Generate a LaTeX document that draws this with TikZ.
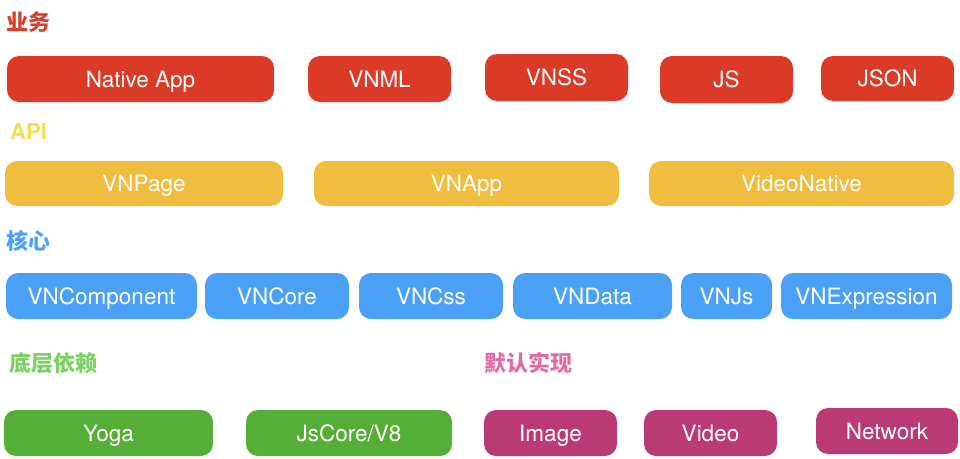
\documentclass[tikz,border=0pt]{standalone}
\usepackage{fontspec}
\setmainfont{TeX Gyre Heros}
\newfontfamily\cjk{Noto Sans CJK SC}
\usetikzlibrary{positioning}

\definecolor{bizred}{HTML}{DB3B26}
\definecolor{apiyellow}{HTML}{F0BD40}
\definecolor{coreblue}{HTML}{4BA1F8}
\definecolor{depgreen}{HTML}{55AE35}
\definecolor{implpink}{HTML}{BA3A75}
\definecolor{lblred}{HTML}{D9402A}
\definecolor{lblyellow}{HTML}{F5DE50}
\definecolor{lblgreen}{HTML}{7BD262}
\definecolor{lblpink}{HTML}{E06BA8}

\begin{document}
\begin{tikzpicture}[x=1pt, y=-1pt,
  every node/.style={font=\fontsize{22.5}{26}\selectfont},
  box/.style={rectangle, rounded corners=12pt, inner sep=0pt, text=white,
    text height=16pt, text depth=0pt, minimum height=46pt},
  layer/.style={anchor=west, inner sep=0pt, font=\fontsize{22}{26}\selectfont\bfseries}]
\useasboundingbox (0,0) rectangle (960,458);

% 业务
\node (bizlabel) [layer, text=lblred] at (6,22) {\cjk 业务};
\node (nativeapp) [box, fill=bizred, minimum width=267pt] at (140.5,79) {Native App};
\node (vnml) [box, fill=bizred, minimum width=143pt] at (379.5,79) {VNML};
\node (vnss) [box, fill=bizred, minimum width=143pt, minimum height=47pt] at (556.5,77.5) {VNSS};
\node (js) [box, fill=bizred, minimum width=133pt, minimum height=47pt] at (726.5,79.5) {JS};
\node (json) [box, fill=bizred, minimum width=133pt, minimum height=45pt] at (887.5,78.5) {JSON};

% API
\node (apilabel) [layer, text=lblyellow] at (10,131) {API};
\node (vnpage) [box, fill=apiyellow, minimum width=278pt, minimum height=45pt] at (144,183.5) {VNPage};
\node (vnapp) [box, fill=apiyellow, minimum width=305pt, minimum height=45pt] at (466.5,183.5) {VNApp};
\node (videonative) [box, fill=apiyellow, minimum width=305pt, minimum height=45pt] at (801.5,183.5) {VideoNative};

% 核心
\node (corelabel) [layer, text=coreblue] at (6,241) {\cjk 核心};
\node (vncomponent) [box, fill=coreblue, minimum width=191pt] at (101.5,296) {VNComponent};
\node (vncore) [box, fill=coreblue, minimum width=144pt] at (277,296) {VNCore};
\node (vncss) [box, fill=coreblue, minimum width=144pt] at (431,296) {VNCss};
\node (vndata) [box, fill=coreblue, minimum width=159pt] at (592.5,296) {VNData};
\node (vnjs) [box, fill=coreblue, minimum width=91pt] at (726.5,296) {VNJs};
\node (vnexpression) [box, fill=coreblue, minimum width=171pt] at (866.5,296) {VNExpression};

% 底层依赖 / 默认实现
\node (deplabel) [layer, text=lblgreen] at (9,363) {\cjk 底层依赖};
\node (impllabel) [layer, text=lblpink] at (484,363) {\cjk 默认实现};
\node (yoga) [box, fill=depgreen, minimum width=209pt] at (108.5,433) {Yoga};
\node (jscore) [box, fill=depgreen, minimum width=206pt] at (349,433) {JsCore/V8};
\node (image) [box, fill=implpink, minimum width=133pt] at (550.5,433) {Image};
\node (video) [box, fill=implpink, minimum width=133pt] at (710.5,433) {Video};
\node (network) [box, fill=implpink, minimum width=142pt] at (887,431) {Network};
\end{tikzpicture}
\end{document}
